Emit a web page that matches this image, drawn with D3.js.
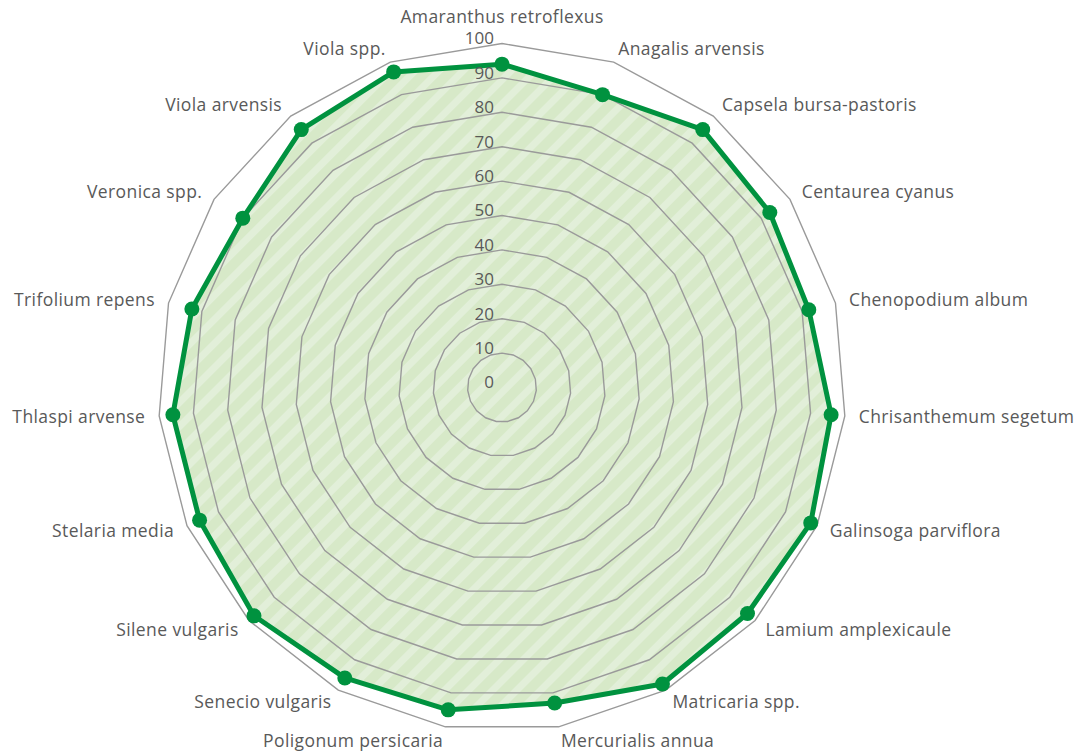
<!DOCTYPE html>
<html>
<head>
<meta charset="utf-8">
<script src="https://cdn.jsdelivr.net/npm/d3@7"></script>
<style>
  body { margin: 0; background: #fff; }
  text { font-family: "Open Sans", sans-serif; fill: #595959; }
</style>
</head>
<body>
<svg id="chart"></svg>
<script>
const svg_width = 1085;
const svg_height = 754;

// weeds (categories) and values
const categories = [
  'Amaranthus retroflexus', 'Anagalis arvensis', 'Capsela bursa-pastoris', 'Centaurea cyanus',
  'Chenopodium album', 'Chrisanthemum segetum', 'Galinsoga parviflora', 'Lamium amplexicaule',
  'Matricaria spp.', 'Mercurialis annua', 'Poligonum persicaria', 'Senecio vulgaris',
  'Silene vulgaris', 'Stelaria media', 'Thlaspi arvense', 'Trifolium repens',
  'Veronica spp.', 'Viola arvensis', 'Viola spp.'
];
const values = [94, 90, 95, 93, 92, 96, 98, 97, 98, 93, 95, 96, 98, 96, 96, 93, 90, 95, 97];
const ticks = [0, 10, 20, 30, 40, 50, 60, 70, 80, 90, 100];

const cx = 502, cy = 387.5;
const outerR = 344;

const svg = d3.select('#chart')
  .attr('width', svg_width)
  .attr('height', svg_height);

const g = svg.append('g').attr('transform', `translate(${cx}, ${cy})`);

const r = d3.scaleLinear().domain([0, 100]).range([0, outerR]);
const angle = d3.scaleLinear().domain([0, categories.length]).range([0, 2 * Math.PI]);

// striped fill
const defs = svg.append('defs');
const pat = defs.append('pattern')
  .attr('id', 'stripes')
  .attr('patternUnits', 'userSpaceOnUse')
  .attr('width', 17).attr('height', 17)
  .attr('patternTransform', 'rotate(45)');
pat.append('rect').attr('width', 17).attr('height', 17).attr('fill', '#d7e9c8');
pat.append('rect').attr('width', 7).attr('height', 17).attr('fill', '#e2efd9');

const areaLine = d3.lineRadial()
  .angle((d, i) => angle(i))
  .radius(d => r(d))
  .curve(d3.curveLinearClosed);

g.append('path')
  .datum(values)
  .attr('d', areaLine)
  .attr('fill', 'url(#stripes)');

// grid rings
ticks.filter(t => t > 0).forEach(t => {
  g.append('path')
    .datum(categories.map(() => t))
    .attr('d', areaLine)
    .attr('fill', 'none')
    .attr('stroke', '#9a9a9a')
    .attr('stroke-width', 1.4);
});

// series line + markers
g.append('path')
  .datum(values)
  .attr('d', areaLine)
  .attr('fill', 'none')
  .attr('stroke', '#00923f')
  .attr('stroke-width', 5)
  .attr('stroke-linejoin', 'round');

g.selectAll('.dot')
  .data(values)
  .enter().append('circle')
  .attr('class', 'dot')
  .attr('cx', (d, i) => r(d) * Math.sin(angle(i)))
  .attr('cy', (d, i) => -r(d) * Math.cos(angle(i)))
  .attr('r', 7.5)
  .attr('fill', '#00923f');

// value axis labels
g.selectAll('.tick')
  .data(ticks)
  .enter().append('text')
  .attr('class', 'tick')
  .attr('x', -8)
  .attr('y', d => -r(d) - 5)
  .attr('dy', '0.35em')
  .attr('text-anchor', 'end')
  .attr('font-size', '17px')
  .text(d => d);

// category labels
const labelR = outerR + 14;
g.selectAll('.cat')
  .data(categories)
  .enter().append('text')
  .attr('class', 'cat')
  .attr('x', (d, i) => labelR * Math.sin(angle(i)))
  .attr('y', (d, i) => {
    const s = Math.sin(angle(i)), c = Math.cos(angle(i));
    return -labelR * c - (Math.abs(s) < 0.05 ? 13 : 0);
  })
  .attr('dy', '0.35em')
  .attr('text-anchor', (d, i) => {
    const s = Math.sin(angle(i));
    return Math.abs(s) < 0.05 ? 'middle' : (s > 0 ? 'start' : 'end');
  })
  .attr('font-size', '17.5px')
  .attr('letter-spacing', '0.4px')
  .text(d => d);
</script>
</body>
</html>
